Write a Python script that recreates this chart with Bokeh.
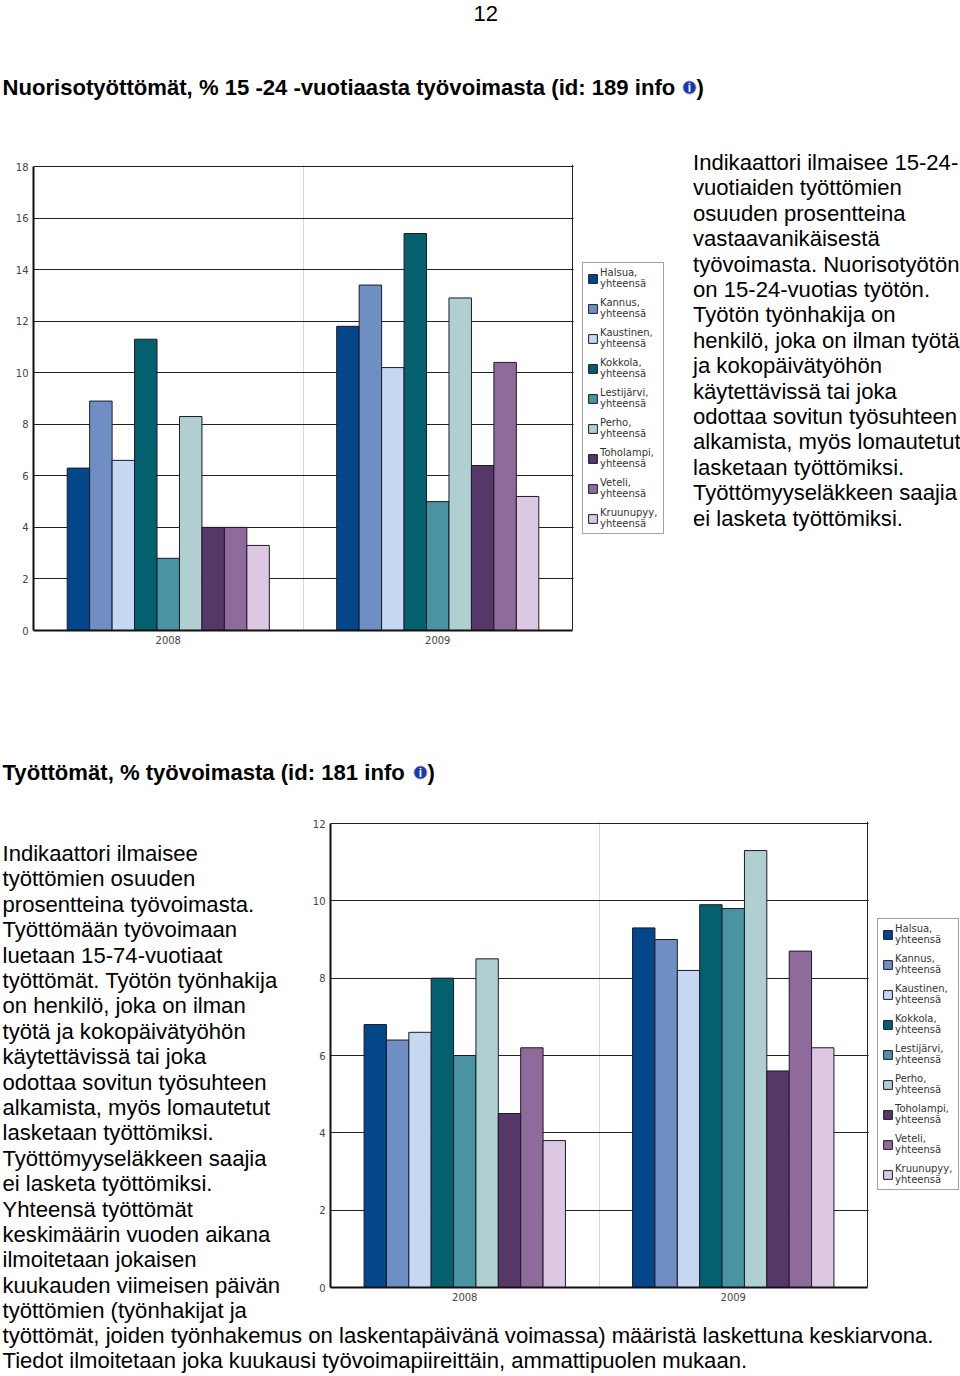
from bokeh.plotting import figure
from bokeh.layouts import column, row
from bokeh.models import Range1d, FixedTicker, Legend, LegendItem, Grid, BoxAnnotation
from bokeh.core.properties import value
from bokeh.embed import file_html
from bokeh.resources import INLINE

years = ["2008", "2009"]
towns = ["Halsua", "Kannus", "Kaustinen", "Kokkola", "Lestijärvi", "Perho", "Toholampi", "Veteli", "Kruunupyy"]
colors = ["#03468a", "#6f8fc4", "#c6d7f1", "#04606f", "#4a93a3", "#b0cfd0", "#573668", "#8f6b9b", "#dcc8e2"]
youth_2008 = [6.3, 8.9, 6.6, 11.3, 2.8, 8.3, 4.0, 4.0, 3.3]
youth_2009 = [11.8, 13.4, 10.2, 15.4, 5.0, 12.9, 6.4, 10.4, 5.2]
all_2008 = [6.8, 6.4, 6.6, 8.0, 6.0, 8.5, 4.5, 6.2, 3.8]
all_2009 = [9.3, 9.0, 8.2, 9.9, 9.8, 11.3, 5.6, 8.7, 6.2]
youth_ticks = [0, 2, 4, 6, 8, 10, 12, 14, 16, 18]
all_ticks = [0, 2, 4, 6, 8, 10, 12]

page_number = "12"
title_1 = "Nuorisotyöttömät, % 15 -24 -vuotiaasta työvoimasta (id: 189 info"
title_2 = "Työttömät, % työvoimasta (id: 181 info"
text_1 = ["Indikaattori ilmaisee 15-24-", "vuotiaiden työttömien", "osuuden prosentteina", "vastaavanikäisestä",
          "työvoimasta. Nuorisotyötön", "on 15-24-vuotias työtön.", "Työtön työnhakija on", "henkilö, joka on ilman työtä",
          "ja kokopäivätyöhön", "käytettävissä tai joka", "odottaa sovitun työsuhteen", "alkamista, myös lomautetut",
          "lasketaan työttömiksi.", "Työttömyyseläkkeen saajia", "ei lasketa työttömiksi."]
text_2 = ["Indikaattori ilmaisee", "työttömien osuuden", "prosentteina työvoimasta.", "Työttömään työvoimaan",
          "luetaan 15-74-vuotiaat", "työttömät. Työtön työnhakija", "on henkilö, joka on ilman", "työtä ja kokopäivätyöhön",
          "käytettävissä tai joka", "odottaa sovitun työsuhteen", "alkamista, myös lomautetut", "lasketaan työttömiksi.",
          "Työttömyyseläkkeen saajia", "ei lasketa työttömiksi.", "Yhteensä työttömät", "keskimäärin vuoden aikana",
          "ilmoitetaan jokaisen", "kuukauden viimeisen päivän", "työttömien (työnhakijat ja"]
text_3 = ["työttömät, joiden työnhakemus on laskentapäivänä voimassa) määristä laskettuna keskiarvona.",
          "Tiedot ilmoitetaan joka kuukausi työvoimapiireittäin, ammattipuolen mukaan."]

FONT = "Liberation Sans"
BODY = "22.1px"
FRAME_LINE = "#222222"


def canvas(w, h):
    p = figure(width=w, height=h, output_backend="svg", toolbar_location=None,
               x_range=Range1d(0, w), y_range=Range1d(h, 0),
               x_axis_type=None, y_axis_type=None, min_border=0, outline_line_color=None, frame_align=False)
    p.grid.visible = False
    return p


def write(p, x, y0, lines, size=BODY, bold=False, color="#000000", step=25.4):
    p.text(x=[x] * len(lines), y=[y0 + i * step for i in range(len(lines))], text=lines,
           text_font=value(FONT), text_font_size=size, text_color=color,
           text_font_style="bold" if bold else "normal", text_baseline="middle", text_align="left")


def info(p, x, y):
    p.scatter(x=[x], y=[y], size=13, marker="circle", fill_color="#1c35b0", line_color="#8d9be0", line_width=1)
    p.text(x=[x], y=[y], text=["i"], text_font=value(FONT), text_font_size="12px", text_font_style="bold",
           text_color="#ffffff", text_align="center", text_baseline="middle")


def chart(w, h, left, plot_w, top, bottom, first, second, ticks, legend_xy):
    # The frame runs on under the legend: the x scale reaches 2 at the end of the plot area.
    frame_w = w - left
    # The frame also starts 2px above the top tick, so that the grid draws the top edge.
    plot_h = h - top - bottom
    p = figure(width=w, height=h, output_backend="svg", toolbar_location=None,
               x_range=Range1d(0, 2 * frame_w / plot_w), y_range=Range1d(ticks[0], ticks[-1] * (1 + 2 / plot_h)),
               min_border_left=left, min_border_right=0, min_border_top=top - 2, min_border_bottom=bottom,
               outline_line_color=None, frame_align=False)
    p.add_layout(BoxAnnotation(left=2.004, fill_color="#ffffff", fill_alpha=1, line_color=None, level="glyph"))
    items = []
    group = 0.75
    bw = group / len(towns)
    for i, town in enumerate(towns):
        xs = [0.5 - group / 2 + bw * (i + 0.5), 1.5 - group / 2 + bw * (i + 0.5)]
        r = p.vbar(x=xs, top=[first[i], second[i]], bottom=0, width=bw,
                   fill_color=colors[i], line_color="#1a1a2a", line_width=1)
        items.append(LegendItem(label=town + ",\nyhteensä", renderers=[r]))
    legend = Legend(items=items, location=legend_xy, orientation="vertical",
                    border_line_color="#444444", border_line_width=1.5, background_fill_color="#ffffff",
                    label_text_font="DejaVu Sans", label_text_font_size="10px", label_text_color="#333333",
                    label_text_line_height=1.05, glyph_width=11, glyph_height=11, spacing=8,
                    padding=4, margin=0, label_standoff=2, label_height=22, label_width=59)
    p.add_layout(legend, "center")
    p.xaxis.ticker = FixedTicker(ticks=[0.5, 1.5])
    p.xaxis.major_label_overrides = {0.5: years[0], 1.5: years[1]}
    p.xaxis.bounds = (0, 2)
    p.yaxis.ticker = FixedTicker(ticks=ticks)
    p.yaxis.bounds = (ticks[0], ticks[-1])
    for ax in (p.xaxis[0], p.yaxis[0]):
        ax.major_tick_line_color = None
        ax.minor_tick_line_color = None
        ax.major_tick_out = 0
        ax.axis_line_color = "#111111"
        ax.axis_line_width = 2
        ax.major_label_text_font = "DejaVu Sans"
        ax.major_label_text_font_size = "10px"
        ax.major_label_text_color = "#444444"
        ax.major_label_standoff = 5
    p.xgrid.ticker = FixedTicker(ticks=[1])
    p.xgrid.grid_line_color = "#d8d8d8"
    p.ygrid.ticker = FixedTicker(ticks=ticks)
    p.ygrid.grid_line_color = FRAME_LINE
    p.ygrid.grid_line_width = 1
    p.add_layout(Grid(dimension=0, ticker=FixedTicker(ticks=[2]), grid_line_color=FRAME_LINE, grid_line_width=1))
    return p


top = canvas(960, 150)
write(top, 473, 13, [page_number], size="22px")
write(top, 2, 87, [title_1], size=BODY, bold=True)
info(top, 689, 87)
write(top, 696, 87, [")"], size=BODY, bold=True)

chart_1 = chart(670, 510, 33, 539, 16, 30, youth_2008, youth_2009, youth_ticks, (549, 96))
side_1 = canvas(290, 510)
write(side_1, 22.5, 12, text_1)

middle = canvas(960, 150)
write(middle, 2, 112, [title_2], size=BODY, bold=True)
info(middle, 420, 112)
write(middle, 427, 112, [")"], size=BODY, bold=True)

side_2 = canvas(300, 513)
write(side_2, 2, 43, text_2)
chart_2 = chart(660, 513, 30, 537, 13, 36, all_2008, all_2009, all_ticks, (547, 97))

bottom = canvas(960, 53)
write(bottom, 2, 12, text_3)

page = column(top, row(chart_1, side_1, spacing=0), middle, row(side_2, chart_2, spacing=0), bottom, spacing=0)
open("out.html", "w").write(file_html(page, INLINE))
